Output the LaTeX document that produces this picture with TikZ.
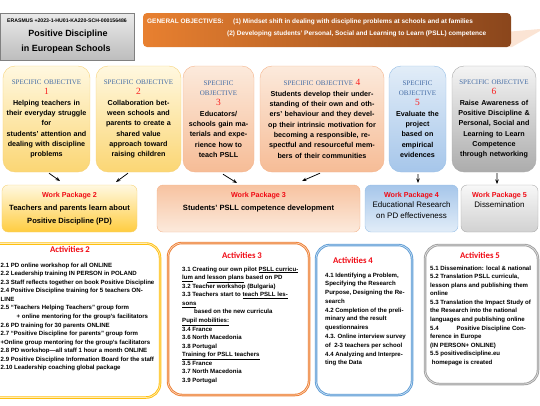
\documentclass[tikz,border=0pt]{standalone}
\usepackage{fontspec}
\setmainfont{Liberation Sans}
\newfontfamily\calfont{Carlito}
\newfontfamily\serfont{Liberation Serif}
\usetikzlibrary{arrows.meta,positioning}

\definecolor{sotxt}{RGB}{68,108,165}
\definecolor{numred}{RGB}{250,30,30}
\definecolor{pkred}{RGB}{240,10,20}
\definecolor{yeltop}{RGB}{255,248,224}
\definecolor{yelbot}{RGB}{251,214,116}
\definecolor{yeledge}{RGB}{246,210,120}
\definecolor{peatop}{RGB}{252,234,220}
\definecolor{peabot}{RGB}{246,188,150}
\definecolor{peaedge}{RGB}{244,180,140}
\definecolor{blutop}{RGB}{226,237,248}
\definecolor{blubot}{RGB}{166,198,234}
\definecolor{bluedge}{RGB}{150,190,230}
\definecolor{grytop}{RGB}{244,244,244}
\definecolor{grybot}{RGB}{172,172,172}
\definecolor{gryedge}{RGB}{170,170,170}
\definecolor{goall}{RGB}{232,128,48}
\definecolor{goalr}{RGB}{138,70,28}
\definecolor{goaltail}{RGB}{251,228,212}
\definecolor{actyel}{RGB}{255,192,16}
\definecolor{actora}{RGB}{237,125,49}
\definecolor{actblu}{RGB}{91,155,213}
\definecolor{actgry}{RGB}{158,158,158}

\newcommand\sotitle[1]{{\serfont\mdseries\fontsize{7}{10}\selectfont\color{sotxt}#1}}
\newcommand\sonum[1]{{\serfont\mdseries\fontsize{9.5}{10}\selectfont\color{numred}#1}}
\newcommand\pklabel[1]{{\color{pkred}\bfseries\fontsize{7.2}{10}\selectfont #1}}

\tikzset{
  sobox/.style={draw, rounded corners=12bp, align=center, inner sep=0pt,
    minimum height=106bp, font=\fontsize{7.2}{10.4}\selectfont\bfseries},
  wpbox/.style={draw, rounded corners=6bp, inner sep=0pt, minimum height=47bp},
  wptext/.style={anchor=north, align=center, inner sep=0pt},
  actbox/.style={rounded corners=14bp, fill=white, line width=0.9bp,
    double distance=0.7bp, inner sep=0pt},
  acthead/.style={anchor=base, inner sep=0pt, text=pkred,
    font=\calfont\bfseries\fontsize{8.8}{10}\selectfont},
  acttext/.style={anchor=north west, align=left, inner sep=0pt,
    font=\bfseries\fontsize{6.1}{8.6}\selectfont},
  goaltxt/.style={anchor=base west, inner sep=0pt, text=white,
    font=\bfseries\fontsize{6.5}{8}\selectfont},
  link/.style={-{Stealth[length=4.5bp,width=3.5bp]}, line width=0.75bp},
  yelfill/.style={top color=yeltop, bottom color=yelbot, draw=yeledge},
  peafill/.style={top color=peatop, bottom color=peabot, draw=peaedge},
  blufill/.style={top color=blutop, bottom color=blubot, draw=bluedge},
  gryfill/.style={top color=grytop, bottom color=grybot, draw=gryedge}
}

\begin{document}
\begin{tikzpicture}[x=1bp,y=-1bp]
\useasboundingbox (0,0) rectangle (540,405);

\node[draw=gray, top color=white!92!black, bottom color=white!74!black,
  minimum width=134bp, minimum height=47bp, inner sep=0pt] (ttl) at (67,36.5) {};
\node[anchor=base, inner sep=0pt, font=\bfseries\fontsize{5.2}{6}\selectfont] (ttlcode) at (67,22.8) {ERASMUS +2023-1-HU01-KA220-SCH-000156486};
\node[anchor=base, inner sep=0pt, font=\bfseries\fontsize{9}{11}\selectfont] (ttlname) at (68,36.3) {Positive Discipline};
\node[anchor=base, inner sep=0pt, font=\bfseries\fontsize{9}{11}\selectfont] (ttlplace) at (66,51.3) {in European Schools};

\fill[goaltail] (505,32) -- (540,29) -- (540,31) -- (512,47) -- (505,47) -- cycle;
\node[rounded corners=4bp, left color=goall, right color=goalr,
  minimum width=368bp, minimum height=34bp, inner sep=0pt] (goal) at (327,30) {};
\node[goaltxt] (goalhead) at (147,23.3) {GENERAL OBJECTIVES:};
\node[goaltxt] (goalone) at (233,23.3) {(1) Mindset shift in dealing with discipline problems at schools and at families};
\node[goaltxt] (goaltwo) at (227,35.6) {(2) Developing students' Personal, Social and Learning to Learn (PSLL) competence};

\node[sobox, yelfill, minimum width=87bp, text width=84bp] (so1) at (46.5,119)
  {\sotitle{SPECIFIC OBJECTIVE}\\ \sonum{1}\\ Helping teachers in\\ their everyday struggle\\ for\\ students' attention and\\ dealing with discipline\\ problems};
\node[sobox, yelfill, minimum width=85bp, text width=82bp] (so2) at (138.5,119)
  {\sotitle{SPECIFIC OBJECTIVE}\\ \sonum{2}\\ Collaboration bet-\\ ween schools and\\ parents to create a\\ shared value\\ approach toward\\ raising children};
\node[sobox, peafill, minimum width=71bp, text width=68bp] (so3) at (218.5,119)
  {\sotitle{SPECIFIC}\\ \sotitle{OBJECTIVE}\\ \sonum{3}\\ Educators/\\ schools gain ma-\\ terials and expe-\\ rience how to\\ teach PSLL};
\node[sobox, peafill, minimum width=124bp, text width=121bp] (so4) at (322,119)
  {\sotitle{SPECIFIC OBJECTIVE} \sonum{4}\\ Students develop their under-\\ standing of their own and oth-\\ ers' behaviour and they devel-\\ op their intrinsic motivation for\\ becoming a responsible, re-\\ spectful and resourceful mem-\\ bers of their communities};
\node[sobox, blufill, minimum width=57bp, text width=55bp] (so5) at (417.5,119)
  {\sotitle{SPECIFIC}\\ \sotitle{OBJECTIVE}\\ \sonum{5}\\ Evaluate the\\ project\\ based on\\ empirical\\ evidences};
\node[sobox, gryfill, minimum width=84bp, text width=82bp] (so6) at (494,119)
  {\sotitle{SPECIFIC OBJECTIVE}\\ \sonum{6}\\ Raise Awareness of\\ Positive Discipline \&\\ Personal, Social and\\ Learning to Learn\\ Competence\\ through networking};

\coordinate (end1) at (60,181);
\coordinate (end2) at (116,182);
\coordinate (end3) at (237,183);
\coordinate (end4) at (302,181);
\coordinate (end5) at (418,183);
\coordinate (end6) at (497,184);
\draw[link] ([xshift=2.5bp,yshift=-1bp]so1.south) -- (end1);
\draw[link] ([xshift=-10.5bp,yshift=-1bp]so2.south) -- (end2);
\draw[link] ([xshift=4.5bp,yshift=-2bp]so3.south) -- (end3);
\draw[link] ([xshift=-2bp,yshift=-1bp]so4.south) -- (end4);
\draw[link] ([xshift=0.5bp,yshift=-2bp]so5.south) -- (end5);
\draw[link] ([xshift=3bp,yshift=-1bp]so6.south) -- (end6);

\node[wpbox, top color=yeltop, bottom color=actyel!80!white, draw=yeledge, minimum width=135bp] (wp2) at (69.5,208.5) {};
\node[wpbox, top color=peabot!90!white, bottom color=peatop, draw=peaedge, minimum width=203bp] (wp3) at (258.5,208.5) {};
\node[wpbox, top color=blubot, bottom color=blutop, draw=bluedge, minimum width=93bp] (wp4) at (411.5,208.5) {};
\node[wpbox, top color=white!97!black, bottom color=white!82!black, draw=gryedge, minimum width=77bp] (wp5) at (499.5,208.5) {};
\node[wptext, font=\bfseries\fontsize{7.6}{13}\selectfont] (wp2txt) at (69.5,192)
  {\pklabel{Work Package 2}\\ Teachers and parents learn about\\ Positive Discipline (PD)};
\node[wptext, font=\bfseries\fontsize{7.6}{13}\selectfont] (wp3txt) at (258.5,192)
  {\pklabel{Work Package 3}\\ Students' PSLL competence development};
\node[wptext, font=\fontsize{8}{10.6}\selectfont] (wp4txt) at (411.5,192)
  {\pklabel{Work Package 4}\\ Educational Research\\ on PD effectiveness};
\node[wptext, font=\fontsize{8}{10.6}\selectfont] (wp5txt) at (499.5,192)
  {\pklabel{Work Package 5}\\ Dissemination};

\node[actbox, draw=actyel, double=actyel!30!white, minimum width=175bp, minimum height=154bp] (a2box) at (72.5,320.5) {};
\node[actbox, draw=actora, double=actora!30!white, minimum width=141bp, minimum height=152bp] (a3box) at (238.5,319) {};
\node[actbox, draw=actblu, double=actblu!30!white, minimum width=96bp, minimum height=150bp] (a4box) at (364,320) {};
\node[actbox, draw=actgry, double=actgry!30!white, minimum width=113bp, minimum height=139bp] (a5box) at (481.5,314.5) {};

\node[acthead] (a2head) at (70,252.8) {Activities 2};
\node[acthead] (a3head) at (242,258.8) {Activities 3};
\node[acthead] (a4head) at (353,263.8) {Activities 4};
\node[acthead] (a5head) at (480,258.8) {Activities 5};

\node[acttext] (a2txt) at (0.5,262.5)
  {2.1 PD online workshop for all ONLINE\\
   2.2 Leadership training IN PERSON in POLAND\\
   2.3 Staff reflects together on book Positive Discipline\\
   2.4 Positive Discipline training for 5 teachers ON-\\
   LINE\\
   2.5 “Teachers Helping Teachers” group form\\
   \hspace*{16bp}+ online mentoring for the group’s facilitators\\
   2.6 PD training for 30 parents ONLINE\\
   2.7 “Positive Discipline for parents” group form\\
   +Online group mentoring for the group’s facilitators\\
   2.8 PD workshop—all staff 1 hour a month ONLINE\\
   2.9 Positive Discipline Information Board for the staff\\
   2.10 Leadership coaching global package};
\node[acttext] (a3txt) at (182,266.5)
  {3.1 Creating our own pilot \underline{PSLL curricu-}\\
   \underline{lum} and \underline{lesson plans} based on PD\\
   3.2 Teacher workshop (Bulgaria)\\
   3.3 Teachers start to \underline{teach PSLL les-}\\
   \underline{sons}\\
   \hspace*{12bp}based on the new curricula\\
   \underline{Pupil mobilities:}\\
   3.4 France\\
   3.6 North Macedonia\\
   3.8 Portugal\\
   \underline{Training for PSLL teachers}\\
   3.5 France\\
   3.7 North Macedonia\\
   3.9 Portugal};
\node[acttext, font=\bfseries\fontsize{6.1}{8.8}\selectfont] (a4txt) at (325,272.5)
  {4.1 Identifying a Problem,\\
   Specifying the Research\\
   Purpose, Designing the Re-\\
   search\\
   4.2 Completion of the preli-\\
   minary and the result\\
   questionnaires\\
   4.3. Online interview survey\\
   of \ 2-3 teachers per school\\
   4.4 Analyzing and Interpre-\\
   ting the Data};
\node[acttext] (a5txt) at (430,265.5)
  {5.1 Dissemination: local \& national\\
   5.2 Translation PSLL curricula,\\
   lesson plans and publishing them\\
   online\\
   5.3 Translation the Impact Study of\\
   the Research into the national\\
   languages and publishing online\\
   5.4\hspace*{18bp}Positive Discipline Con-\\
   ference in Europe\\
   (IN PERSON+ ONLINE)\\
   5.5 positivediscipline.eu\\
   \ homepage is created};
\end{tikzpicture}
\end{document}
